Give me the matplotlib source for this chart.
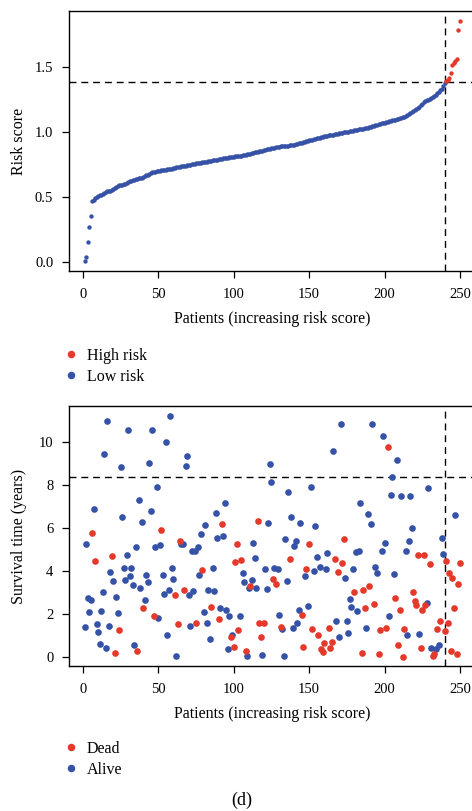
import matplotlib
matplotlib.use("Agg")
import matplotlib.pyplot as plt
from matplotlib.lines import Line2D
import numpy as np

plt.rcParams['font.family'] = ['Liberation Serif', 'DejaVu Serif']

# ---------------- data ----------------
risk_score = [
    0.005, 0.040, 0.150, 0.268, 0.355, 0.470, 0.476, 0.490, 0.500, 0.508,
    0.513, 0.518, 0.525, 0.533, 0.538, 0.542, 0.545, 0.549, 0.553, 0.558,
    0.566, 0.576, 0.584, 0.589, 0.592, 0.595, 0.598, 0.603, 0.609, 0.615,
    0.620, 0.624, 0.628, 0.632, 0.636, 0.639, 0.642, 0.645, 0.649, 0.654,
    0.660, 0.666, 0.672, 0.678, 0.683, 0.688, 0.691, 0.694, 0.697, 0.700,
    0.702, 0.704, 0.706, 0.708, 0.710, 0.712, 0.714, 0.716, 0.718, 0.721,
    0.724, 0.727, 0.730, 0.733, 0.735, 0.737, 0.739, 0.741, 0.743, 0.746,
    0.748, 0.751, 0.753, 0.755, 0.757, 0.759, 0.761, 0.764, 0.766, 0.768,
    0.770, 0.772, 0.774, 0.776, 0.778, 0.780, 0.783, 0.785, 0.787, 0.790,
    0.792, 0.794, 0.796, 0.798, 0.800, 0.802, 0.804, 0.806, 0.808, 0.810,
    0.811, 0.812, 0.813, 0.815, 0.817, 0.819, 0.821, 0.824, 0.827, 0.830,
    0.833, 0.836, 0.839, 0.842, 0.845, 0.847, 0.849, 0.852, 0.856, 0.860,
    0.863, 0.866, 0.868, 0.870, 0.872, 0.874, 0.877, 0.880, 0.883, 0.886,
    0.888, 0.890, 0.891, 0.892, 0.893, 0.894, 0.895, 0.897, 0.899, 0.902,
    0.905, 0.908, 0.911, 0.914, 0.917, 0.921, 0.925, 0.929, 0.932, 0.935,
    0.938, 0.941, 0.944, 0.947, 0.950, 0.953, 0.956, 0.959, 0.962, 0.965,
    0.968, 0.971, 0.973, 0.975, 0.977, 0.979, 0.982, 0.984, 0.986, 0.989,
    0.991, 0.993, 0.995, 0.997, 0.999, 1.001, 1.003, 1.005, 1.008, 1.011,
    1.014, 1.017, 1.019, 1.021, 1.023, 1.025, 1.027, 1.029, 1.032, 1.036,
    1.040, 1.044, 1.048, 1.052, 1.055, 1.058, 1.061, 1.064, 1.067, 1.070,
    1.073, 1.076, 1.080, 1.084, 1.088, 1.091, 1.094, 1.097, 1.100, 1.104,
    1.108, 1.112, 1.117, 1.122, 1.127, 1.134, 1.142, 1.150, 1.157, 1.165,
    1.174, 1.184, 1.194, 1.205, 1.215, 1.226, 1.238, 1.245, 1.248, 1.252,
    1.260, 1.268, 1.277, 1.286, 1.296, 1.306, 1.318, 1.330, 1.352, 1.375,
    1.390, 1.400, 1.415, 1.455, 1.510, 1.525, 1.545, 1.560, 1.780, 1.855,
]

survival_time = [
    1.40, 5.24, 2.73, 2.08, 2.65, 5.74, 6.85, 4.47, 1.52, 1.13,
    0.57, 2.14, 2.99, 9.43, 0.43, 10.96, 1.44, 3.94, 4.67, 3.53,
    0.19, 2.78, 2.02, 1.24, 8.81, 6.48, 4.11, 3.58, 4.74, 10.53,
    3.77, 4.11, 3.35, 0.53, 5.10, 0.26, 7.30, 3.19, 6.25, 2.26,
    2.62, 3.78, 3.47, 8.99, 6.78, 10.54, 1.88, 5.10, 7.91, 1.81,
    5.18, 5.89, 3.80, 2.91, 10.00, 1.02, 3.12, 11.19, 4.12, 3.61,
    2.88, 0.05, 1.53, 5.40, 5.24, 5.24, 3.12, 8.87, 9.32, 2.88,
    1.43, 4.90, 3.05, 4.90, 1.55, 5.09, 3.80, 5.71, 4.03, 2.06,
    6.14, 1.58, 3.09, 0.81, 2.33, 4.11, 3.04, 6.70, 5.52, 1.75,
    2.26, 6.16, 5.60, 7.16, 2.16, 0.34, 1.91, 0.90, 0.99, 0.47,
    4.39, 5.26, 1.24, 1.89, 4.50, 3.89, 3.46, 0.29, 0.02, 3.22,
    3.29, 3.57, 5.30, 4.57, 3.21, 6.31, 1.58, 0.91, 0.09, 1.58,
    4.08, 3.13, 6.20, 8.98, 8.14, 3.63, 4.14, 3.40, 4.09, 1.95,
    1.40, 1.29, 0.05, 5.47, 3.50, 7.64, 4.56, 6.51, 1.36, 5.16,
    5.38, 1.58, 2.17, 6.23, 1.95, 0.47, 3.77, 4.09, 2.36, 5.26,
    7.89, 1.30, 3.98, 6.06, 4.62, 0.99, 4.19, 0.34, 0.20, 0.62,
    4.06, 4.81, 1.35, 0.39, 0.70, 9.55, 4.56, 1.64, 3.94, 0.93,
    10.81, 4.37, 5.46, 3.64, 1.67, 1.10, 2.67, 2.31, 4.08, 2.99,
    4.87, 2.11, 4.90, 7.16, 0.17, 3.09, 2.29, 1.36, 6.65, 3.30,
    6.16, 10.82, 2.43, 4.19, 3.88, 0.11, 1.24, 4.91, 10.26, 5.29,
    1.32, 9.77, 1.88, 7.53, 8.34, 3.84, 2.73, 9.15, 0.56, 2.16,
    7.47, 0.00, 1.27, 4.93, 0.99, 5.38, 7.47, 5.97, 3.01, 2.60,
    2.42, 4.71, 1.07, 0.39, 2.19, 4.71, 2.40, 2.51, 7.84, 4.31,
    0.42, 0.05, 0.11, 0.34, 1.30, 0.53, 1.66, 5.53, 4.76, 1.18,
    4.47, 1.58, 3.91, 0.28, 3.67, 2.25, 6.57, 0.12, 3.38, 4.36,
]

# 1 = dead, 0 = alive
status = [
    0, 0, 0, 0, 0, 1, 0, 1, 0, 0,
    0, 0, 0, 0, 0, 0, 0, 0, 1, 0,
    1, 0, 0, 1, 0, 0, 0, 0, 0, 0,
    0, 0, 0, 0, 0, 1, 0, 0, 0, 1,
    0, 0, 0, 0, 0, 0, 1, 0, 0, 0,
    0, 1, 0, 0, 0, 0, 0, 0, 0, 0,
    1, 0, 1, 1, 0, 0, 1, 0, 0, 0,
    0, 0, 0, 0, 1, 0, 0, 0, 1, 0,
    0, 0, 0, 0, 1, 0, 0, 0, 0, 1,
    0, 1, 0, 0, 0, 0, 0, 1, 0, 1,
    1, 1, 1, 0, 1, 0, 0, 1, 0, 0,
    1, 0, 0, 0, 0, 1, 1, 1, 0, 1,
    0, 0, 0, 0, 0, 1, 0, 1, 0, 0,
    1, 0, 0, 0, 0, 0, 1, 0, 0, 0,
    0, 0, 0, 0, 1, 1, 0, 1, 0, 1,
    0, 1, 0, 0, 0, 1, 0, 1, 1, 1,
    0, 0, 1, 1, 1, 0, 1, 0, 1, 0,
    0, 1, 1, 0, 0, 0, 0, 0, 0, 1,
    0, 0, 0, 0, 1, 1, 1, 0, 0, 1,
    0, 0, 1, 0, 0, 1, 1, 0, 0, 0,
    1, 1, 0, 0, 0, 0, 1, 0, 1, 1,
    0, 1, 1, 0, 0, 0, 0, 0, 1, 1,
    1, 1, 0, 1, 1, 1, 1, 0, 0, 1,
    0, 1, 1, 0, 1, 0, 1, 0, 0, 1,
    1, 1, 1, 1, 1, 1, 0, 1, 1, 1,
]

risk_cutoff = 1.38
time_cutoff = 8.34
low_count = 240
x_ticks = [0, 50, 100, 150, 200, 250]
risk_ticks = [0.0, 0.5, 1.0, 1.5]
time_ticks = [0, 2, 4, 6, 8, 10]

# ---------------- style ----------------
RED = '#E5392B'
BLUE = '#3552A6'
W, H = 472, 811
FS_TICK = 10.5
FS_LAB = 11.5

fig = plt.figure(figsize=(W / 100, H / 100), dpi=100)

patients = np.arange(1, len(risk_score) + 1)
risk = np.array(risk_score)
surv = np.array(survival_time)
st = np.array(status)


def style_axes(ax):
    for side in ['left', 'bottom', 'top', 'right']:
        ax.spines[side].set_linewidth(1.0)
    ax.tick_params(direction='out', length=4.8, width=0.9, labelsize=FS_TICK,
                   colors='black')
    ax.tick_params(axis='x', pad=7.5)
    ax.tick_params(axis='y', pad=6.5)
    ax.set_xlim(-9.3, 260)
    ax.set_xticks(x_ticks)


dash = (0, (5, 3.5))

# ---- top: risk score ----
ax1 = fig.add_axes([69 / W, 1 - 271 / H, 406 / W, 260 / H])
style_axes(ax1)
high = patients > low_count
ax1.scatter(patients[~high], risk[~high], s=10, c=BLUE, linewidths=0, zorder=3)
ax1.scatter(patients[high], risk[high], s=10, c=RED, linewidths=0, zorder=3)
ax1.axhline(risk_cutoff, color='black', lw=1.0, ls=dash, zorder=2)
ax1.axvline(low_count, color='black', lw=1.0, ls=dash, zorder=2)
ax1.set_ylim(-0.069, 1.928)
ax1.set_yticks(risk_ticks)
ax1.set_yticklabels([f'{v:.1f}' for v in risk_ticks])
ax1.set_xlabel('Patients (increasing risk score)', fontsize=FS_LAB, labelpad=7)
ax1.set_ylabel('Risk score', fontsize=FS_LAB)
ax1.yaxis.set_label_coords(-0.104, 0.5)

h1 = [Line2D([], [], marker='o', ls='none', color=RED, markersize=4.4, label='High risk'),
      Line2D([], [], marker='o', ls='none', color=BLUE, markersize=4.4, label='Low risk')]
fig.legend(handles=h1, loc='upper left', bbox_to_anchor=(65 / W, 1 - 348 / H),
           frameon=False, fontsize=FS_LAB, handlelength=0.8, handletextpad=0.55,
           labelspacing=0.3, borderpad=0, borderaxespad=0)

# ---- bottom: survival time ----
ax2 = fig.add_axes([69 / W, 1 - 666 / H, 406 / W, 260 / H])
style_axes(ax2)
dead = st == 1
ax2.scatter(patients[~dead], surv[~dead], s=23, c=BLUE, linewidths=0, zorder=3)
ax2.scatter(patients[dead], surv[dead], s=23, c=RED, linewidths=0, zorder=3)
ax2.axhline(time_cutoff, color='black', lw=1.0, ls=dash, zorder=2)
ax2.axvline(low_count, color='black', lw=1.0, ls=dash, zorder=2)
ax2.set_ylim(-0.43, 11.66)
ax2.set_yticks(time_ticks)
ax2.set_xlabel('Patients (increasing risk score)', fontsize=FS_LAB, labelpad=7)
ax2.set_ylabel('Survival time (years)', fontsize=FS_LAB)
ax2.yaxis.set_label_coords(-0.104, 0.5)

h2 = [Line2D([], [], marker='o', ls='none', color=RED, markersize=4.4, label='Dead'),
      Line2D([], [], marker='o', ls='none', color=BLUE, markersize=4.4, label='Alive')]
fig.legend(handles=h2, loc='upper left', bbox_to_anchor=(65 / W, 1 - 741 / H),
           frameon=False, fontsize=FS_LAB, handlelength=0.8, handletextpad=0.55,
           labelspacing=0.3, borderpad=0, borderaxespad=0)

fig.text(242 / W, 1 - 800 / H, '(d)', ha='center', va='center', fontsize=13)

fig.savefig('out.png', dpi=100)
